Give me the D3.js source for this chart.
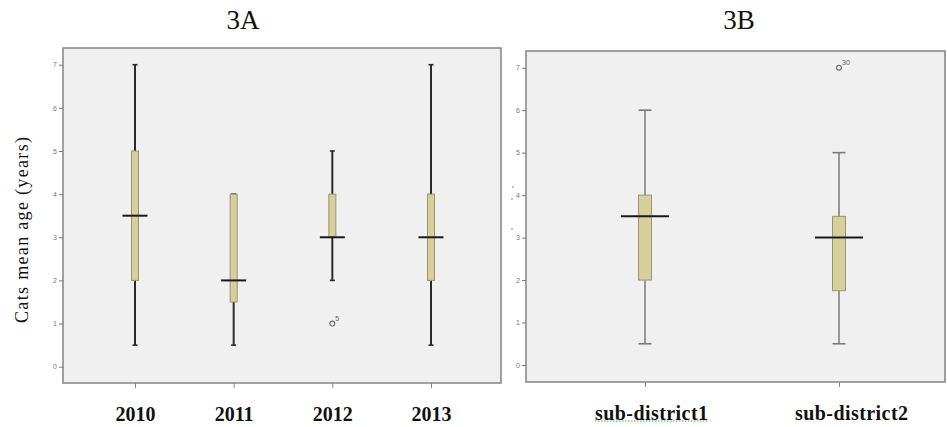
<!DOCTYPE html>
<html>
<head>
<meta charset="utf-8">
<script src="https://cdn.jsdelivr.net/npm/d3@7"></script>
<style>
  html, body { margin: 0; padding: 0; background: #fff; }
  svg { display: block; }
</style>
</head>
<body>
<svg id="chart" width="947" height="427"></svg>
<script>
// Panel 3A: cat age by year
const yearCategories = ["2010", "2011", "2012", "2013"];
const yearWhiskerLow  = [0.5, 0.5, 2, 0.5];
const yearQ1          = [2, 1.5, 3, 2];
const yearMedian      = [3.5, 2, 3, 3];
const yearQ3          = [5, 4, 4, 4];
const yearWhiskerHigh = [7, 4, 5, 7];
const yearOutliers    = [{ cat: "2012", value: 1, label: "5" }];

// Panel 3B: cat age by sub-district
const districtCategories = ["sub-district1", "sub-district2"];
const districtWhiskerLow  = [0.5, 0.5];
const districtQ1          = [2, 1.75];
const districtMedian      = [3.5, 3];
const districtQ3          = [4, 3.5];
const districtWhiskerHigh = [6, 5];
const districtOutliers    = [{ cat: "sub-district2", value: 7, label: "30" }];

const yTicks = [0, 1, 2, 3, 4, 5, 6, 7];

const svg = d3.select("#chart");
const boxFill = "#d6d09c";
const bg = "#f0f0f0";
const frameColor = "#8a8a8a";
const serif = "'Liberation Serif', 'Times New Roman', serif";

function drawPanel(opt) {
  const g = svg.append("g");
  // plot frame
  g.append("rect")
    .attr("x", opt.left).attr("y", opt.top)
    .attr("width", opt.right - opt.left).attr("height", opt.bottom - opt.top)
    .attr("fill", bg).attr("stroke", frameColor).attr("stroke-width", 1.6);

  const y = d3.scaleLinear().domain([0, 7]).range([opt.y0, opt.y7]);
  const x = d3.scalePoint().domain(opt.categories).range(opt.xRange).padding(0);

  // y axis
  const yAxis = d3.axisLeft(y).tickValues(yTicks).tickSize(4).tickPadding(2).tickFormat(d3.format("d"));
  const ya = g.append("g").attr("transform", `translate(${opt.left},0)`).call(yAxis);
  ya.select(".domain").remove();
  ya.selectAll(".tick line").attr("stroke", "#777").attr("stroke-width", 1);
  ya.selectAll(".tick text").attr("fill", "#777").attr("font-size", 7)
    .attr("font-family", "Arial, 'Liberation Sans', sans-serif");

  // x axis
  const xAxis = d3.axisBottom(x).tickSize(5).tickPadding(19).tickSizeOuter(0);
  const xa = g.append("g").attr("transform", `translate(0,${opt.bottom})`).call(xAxis);
  xa.select(".domain").remove();
  xa.selectAll(".tick line").attr("stroke", "#888").attr("stroke-width", 1);
  xa.selectAll(".tick text").attr("fill", "#111").attr("font-size", opt.labelSize).attr("font-weight", "bold")
    .attr("font-family", serif)
    .attr("dx", (d, i) => opt.labelDx ? opt.labelDx[i] : 0)
    .each(function () { if (opt.labelLen) d3.select(this).attr("textLength", opt.labelLen).attr("lengthAdjust", "spacing"); });

  const rows = opt.categories.map((c, i) => ({
    cat: c, lo: opt.lo[i], q1: opt.q1[i], med: opt.med[i], q3: opt.q3[i], hi: opt.hi[i]
  }));

  const boxes = g.selectAll(".box").data(rows).enter().append("g");
  // whisker stems
  boxes.append("line")
    .attr("x1", d => x(d.cat)).attr("x2", d => x(d.cat))
    .attr("y1", d => y(d.hi)).attr("y2", d => y(d.lo))
    .attr("stroke", opt.whiskerColor).attr("stroke-width", opt.whiskerWidth);
  // caps
  ["hi", "lo"].forEach(k => {
    boxes.append("line")
      .attr("x1", d => x(d.cat) - opt.capW / 2).attr("x2", d => x(d.cat) + opt.capW / 2)
      .attr("y1", d => y(d[k])).attr("y2", d => y(d[k]))
      .attr("stroke", opt.whiskerColor).attr("stroke-width", 1.6);
  });
  // box
  boxes.append("rect")
    .attr("x", d => x(d.cat) - opt.boxW / 2).attr("width", opt.boxW)
    .attr("y", d => y(d.q3)).attr("height", d => y(d.q1) - y(d.q3))
    .attr("fill", boxFill).attr("stroke", "#9a9470").attr("stroke-width", 1);
  // median
  boxes.append("line")
    .attr("x1", d => x(d.cat) - opt.medW / 2).attr("x2", d => x(d.cat) + opt.medW / 2)
    .attr("y1", d => y(d.med)).attr("y2", d => y(d.med))
    .attr("stroke", "#1a1a1a").attr("stroke-width", 2);

  // outliers
  opt.outliers.forEach(o => {
    g.append("circle").attr("cx", x(o.cat)).attr("cy", y(o.value)).attr("r", 2.4)
      .attr("fill", "none").attr("stroke", "#666").attr("stroke-width", 1.1);
    g.append("text").attr("x", x(o.cat) + 3).attr("y", y(o.value) - 3)
      .attr("font-size", 7).attr("fill", "#666")
      .attr("font-family", "Arial, 'Liberation Sans', sans-serif").text(o.label);
  });

  // panel title
  svg.append("text").attr("x", opt.titleX).attr("y", 29).attr("text-anchor", "middle")
    .attr("font-size", 27).attr("fill", "#111")
    .attr("font-family", serif).text(opt.title);
  return { g, x, y };
}

drawPanel({
  title: "3A", titleX: 243,
  left: 63, right: 501, top: 48, bottom: 383,
  y0: 366.7, y7: 64.7, xRange: [135, 431],
  categories: yearCategories,
  lo: yearWhiskerLow, q1: yearQ1, med: yearMedian, q3: yearQ3, hi: yearWhiskerHigh,
  outliers: yearOutliers, labelSize: 20,
  boxW: 7, medW: 25, capW: 5, whiskerColor: "#2b2b2b", whiskerWidth: 2
});

const panelB = drawPanel({
  title: "3B", titleX: 739,
  left: 526, right: 945, top: 51, bottom: 382,
  y0: 365, y7: 67.7, xRange: [645, 839],
  categories: districtCategories,
  lo: districtWhiskerLow, q1: districtQ1, med: districtMedian, q3: districtQ3, hi: districtWhiskerHigh,
  outliers: districtOutliers, labelSize: 20, labelLen: 113, labelDx: [6, 12],
  boxW: 13, medW: 48, capW: 13, whiskerColor: "#7a7a7a", whiskerWidth: 1.5
});

// spell-check style dotted underline beneath the first district label
svg.append("line")
  .attr("x1", panelB.x("sub-district1") + 6 - 56).attr("x2", panelB.x("sub-district1") + 6 + 56)
  .attr("y1", 421).attr("y2", 421)
  .attr("stroke", "#4caf50").attr("stroke-width", 1.2).attr("stroke-dasharray", "1.5,1.5");

// stray marks beside the 3B value axis
[[513, 187], [512, 199], [512, 229]].forEach(p => {
  svg.append("circle").attr("cx", p[0]).attr("cy", p[1]).attr("r", 0.8).attr("fill", "#777");
});

// shared y-axis title
svg.append("text")
  .attr("transform", "translate(28,230) rotate(-90)")
  .attr("text-anchor", "middle").attr("font-size", 18).attr("fill", "#111")
  .attr("font-family", serif)
  .attr("textLength", 186).attr("lengthAdjust", "spacing")
  .text("Cats mean age (years)");
</script>
</body>
</html>
